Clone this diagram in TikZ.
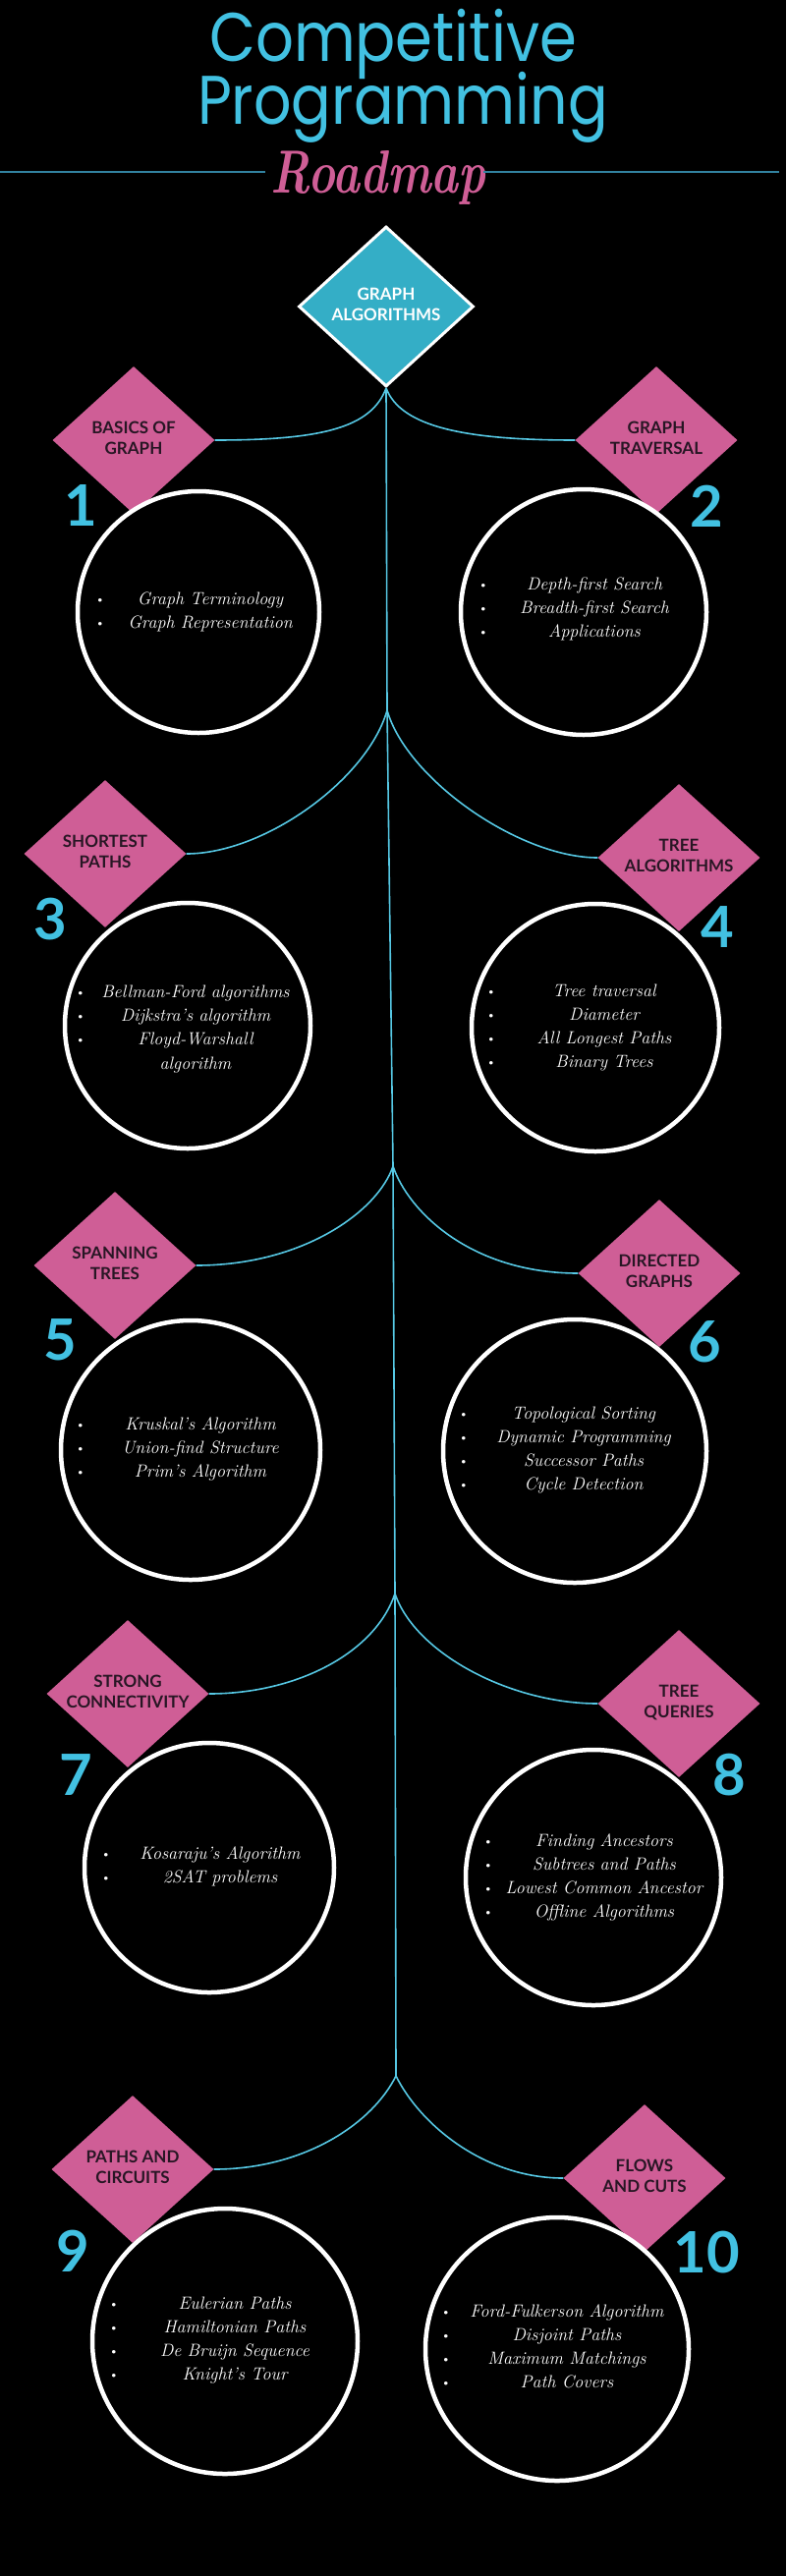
\documentclass[tikz,border=0pt]{standalone}
\usepackage{fontspec}
\usepackage{graphicx}
\usetikzlibrary{shapes.geometric}

\newfontfamily\labelfont{Lato}
\newfontfamily\titlefont{Poppins}

\definecolor{roadCyan}{RGB}{66,193,226}
\definecolor{linkCyan}{RGB}{86,200,228}
\definecolor{stageTeal}{RGB}{52,174,198}
\definecolor{stagePink}{RGB}{207,94,150}
\definecolor{labelInk}{RGB}{40,22,36}
\definecolor{ruleBlue}{RGB}{50,130,160}

% two line label that does not widen the diamond
\newcommand{\twolines}[2]{\makebox[0pt]{\begin{tabular}{@{}c@{}}#1\\#2\end{tabular}}}

\begin{document}
\begin{tikzpicture}[x=1pt, y=-1pt,
	link/.style={linkCyan, line width=1.6pt},
	heading/.style={roadCyan, anchor=base, inner sep=0pt, font=\titlefont\fontsize{70}{78}\selectfont},
	mainstage/.style={diamond, fill=stageTeal, draw=white, line width=3pt, minimum width=178pt, minimum height=163pt, inner sep=0pt, text=white, font=\labelfont\bfseries\fontsize{17}{21}\selectfont},
	stage/.style={diamond, fill=stagePink, minimum width=165pt, minimum height=150pt, inner sep=0pt, text=labelInk, font=\labelfont\bfseries\fontsize{17}{21}\selectfont},
	topic/.style={circle, draw=white, line width=4.5pt, fill=black, inner sep=0pt},
	number/.style={roadCyan, inner sep=0pt, font=\labelfont\bfseries\fontsize{58}{60}\selectfont},
	item/.style={white, anchor=mid, inner sep=0pt, font=\itshape\fontsize{18}{22}\selectfont},
	dot/.style={white, anchor=mid, inner sep=0pt, font=\fontsize{16}{20}\selectfont}]

	\useasboundingbox (0,0) rectangle (800,2622);
	\fill[black] (0,0) rectangle (800,2622);

	% Title
	\node[heading, text depth=0pt] (title1) at (400,63) {\scalebox{0.87}[1]{Competitive}};
	\node[heading, text height=50pt] (title2) at (410,127) {\scalebox{0.86}[1]{Programming}};
	\node[stagePink, anchor=base, inner sep=0pt, font=\bfseries\itshape\fontsize{62}{66}\selectfont] (road) at (385,197) {\scalebox{0.76}[1]{Roadmap}};
	\draw[ruleBlue, line width=1.5pt] (0,175) -- (270,175);
	\draw[ruleBlue, line width=1.5pt] (492,175) -- (793,175);

	% Main stage
	\node[mainstage] (main) at (393,312) {\twolines{GRAPH}{ALGORITHMS}};

	% Branch points on the trunk
	\coordinate (b1) at (main.south);
	\coordinate (b2) at (394,723);
	\coordinate (b3) at (400,1187);
	\coordinate (b4) at (402,1622);
	\coordinate (b5) at (403,2113);

	% Stages
	\foreach \n/\x/\y/\a/\b in {1/136/448/BASICS OF/GRAPH, 2/668/448/GRAPH/TRAVERSAL,
		3/107/869/SHORTEST/PATHS, 4/691/873/TREE/ALGORITHMS,
		5/117/1288/SPANNING/TREES, 6/671/1296/DIRECTED/GRAPHS,
		7/130/1724/STRONG/CONNECTIVITY, 8/691/1734/TREE/QUERIES,
		9/135/2208/PATHS AND/CIRCUITS, 10/656/2217/FLOWS/AND CUTS}
		\node[stage] (s\n) at (\x,\y) {\twolines{\a}{\b}};

	% Trunk
	\draw[link] (b1) -- (b2) -- (b3) -- (b4) -- (b5);

	% Branches
	\draw[link] (b1) .. controls +(-15,40) and +(110,0) .. (s1.east);
	\draw[link] (b1) .. controls +(15,40) and +(-110,0) .. (s2.west);
	\draw[link] (b2) .. controls +(-20,70) and +(80,0) .. (s3.east);
	\draw[link] (b2) .. controls +(20,70) and +(-80,0) .. (s4.west);
	\draw[link] (b3) .. controls +(-15,45) and +(110,0) .. (s5.east);
	\draw[link] (b3) .. controls +(15,45) and +(-110,0) .. (s6.west);
	\draw[link] (b4) .. controls +(-20,60) and +(90,0) .. (s7.east);
	\draw[link] (b4) .. controls +(20,60) and +(-90,0) .. (s8.west);
	\draw[link] (b5) .. controls +(-25,50) and +(90,0) .. (s9.east);
	\draw[link] (b5) .. controls +(25,50) and +(-80,0) .. (s10.west);

	% Topic circles
	\foreach \n/\x/\y/\r in {1/202/623/125, 2/594/623/127, 3/191/1044/127, 4/606/1046/128,
		5/194/1476/134, 6/585/1477/136, 7/213/1901/129, 8/604/1911/132,
		9/229/2383/137, 10/567/2391/136}
		\node[topic, minimum size={(2*\r-4)*1pt}] (c\n) at (\x,\y) {};

	% Numbers
	\foreach \n/\x/\y in {1/82/515, 2/719/515, 3/51/936, 4/730/944, 5/61/1364,
		6/717/1366, 7/77/1807, 8/742/1807, 9/74/2291, 10/719/2293}
		\node[number] (n\n) at (\x,\y) {\n};

	% Circle 1 items
	\foreach \txt [count=\i] in {Graph Terminology, Graph Representation} {
		\node[dot] (c1d\i) at (102, 613+24*\i-24) {\textbullet};
		\node[item] (c1t\i) at (214, 613+24*\i-24) {\txt};
	}

	% Circle 2 items
	\foreach \txt [count=\i] in {Depth-first Search, Breadth-first Search, Applications} {
		\node[dot] (c2d\i) at (492, 598+24*\i-24) {\textbullet};
		\node[item] (c2t\i) at (605, 598+24*\i-24) {\txt};
	}

	% Circle 3 items
	\foreach \txt [count=\i] in {Bellman-Ford algorithms, Dijkstra's algorithm, Floyd-Warshall} {
		\node[dot] (c3d\i) at (82, 1013+24*\i-24) {\textbullet};
		\node[item] (c3t\i) at (199, 1013+24*\i-24) {\txt};
	}
	\node[item] (c3t4) at (199,1086) {algorithm};

	% Circle 4 items
	\foreach \txt [count=\i] in {Tree traversal, Diameter, All Longest Paths, Binary Trees} {
		\node[dot] (c4d\i) at (500, 1012+24*\i-24) {\textbullet};
		\node[item] (c4t\i) at (615, 1012+24*\i-24) {\txt};
	}

	% Circle 5 items
	\foreach \txt [count=\i] in {Kruskal's Algorithm, Union-find Structure, Prim's Algorithm} {
		\node[dot] (c5d\i) at (82, 1453+24*\i-24) {\textbullet};
		\node[item] (c5t\i) at (204, 1453+24*\i-24) {\txt};
	}

	% Circle 6 items
	\foreach \txt [count=\i] in {Topological Sorting, Dynamic Programming, Successor Paths, Cycle Detection} {
		\node[dot] (c6d\i) at (472, 1442+24*\i-24) {\textbullet};
		\node[item] (c6t\i) at (594, 1442+24*\i-24) {\txt};
	}

	% Circle 7 items
	\foreach \txt [count=\i] in {Kosaraju's Algorithm, 2SAT problems} {
		\node[dot] (c7d\i) at (108, 1890+24*\i-24) {\textbullet};
		\node[item] (c7t\i) at (224, 1890+24*\i-24) {\txt};
	}

	% Circle 8 items
	\foreach \txt [count=\i] in {Finding Ancestors, Subtrees and Paths, Lowest Common Ancestor, Offline Algorithms} {
		\node[dot] (c8d\i) at (497, 1877+24*\i-24) {\textbullet};
		\node[item] (c8t\i) at (615, 1877+24*\i-24) {\txt};
	}

	% Circle 9 items
	\foreach \txt [count=\i] in {Eulerian Paths, Hamiltonian Paths, De Bruijn Sequence, Knight's Tour} {
		\node[dot] (c9d\i) at (116, 2348+24*\i-24) {\textbullet};
		\node[item] (c9t\i) at (239, 2348+24*\i-24) {\txt};
	}

	% Circle 10 items
	\foreach \txt [count=\i] in {Ford-Fulkerson Algorithm, Disjoint Paths, Maximum Matchings, Path Covers} {
		\node[dot] (c10d\i) at (454, 2356+24*\i-24) {\textbullet};
		\node[item] (c10t\i) at (577, 2356+24*\i-24) {\txt};
	}

\end{tikzpicture}
\end{document}
